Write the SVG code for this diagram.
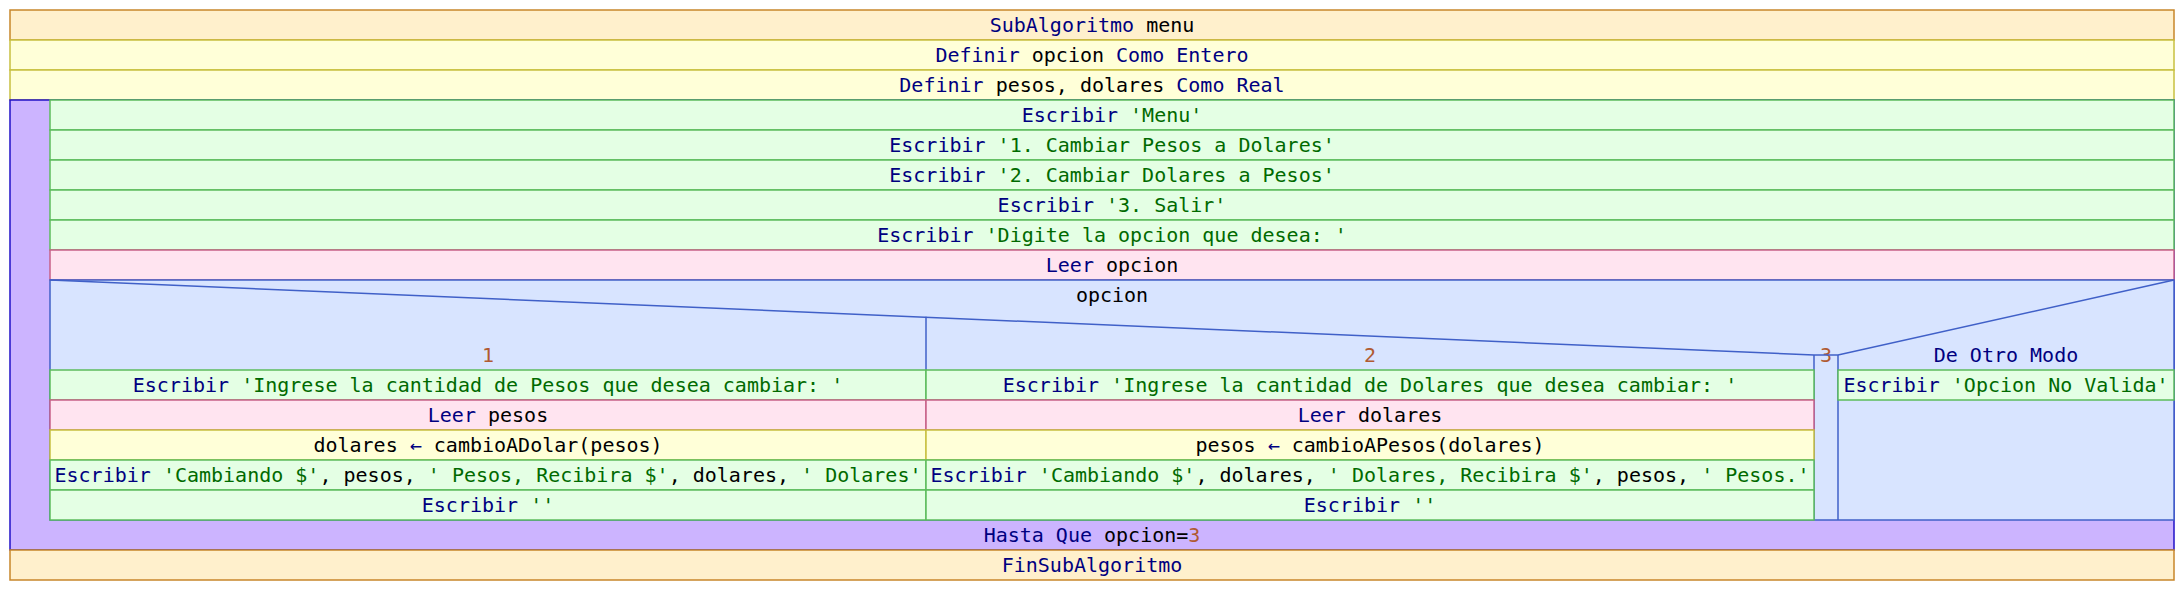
<svg xmlns="http://www.w3.org/2000/svg" width="2184" height="590" viewBox="0 0 2184 590" xml:space="preserve">
<style>
text{font-family:"DejaVu Sans Mono","Liberation Mono",monospace;font-size:20px;text-anchor:middle;fill:#000}
.k{fill:#000080}.s{fill:#006a00}.n{fill:#b05a32}
.fin{fill:#fff0cc;stroke:#c8862a;stroke-width:1.5}
.def{fill:#ffffd8;stroke:#c8c040;stroke-width:1.5}
.esc{fill:#e4ffe4;stroke:#5cbc5c;stroke-width:1.5}
.lee{fill:#ffe4f0;stroke:#c86088;stroke-width:1.5}
.sw{fill:#d8e4ff;stroke:#4060c8;stroke-width:1.5}
.ln{fill:none;stroke:#4060c8;stroke-width:1.5}
.rep{fill:#ccb4ff;stroke:#2010c8;stroke-width:1.5}
</style>
<rect width="2184" height="590" fill="#fff"/>
<g id="n_sub"><rect class="fin" x="10" y="10" width="2164" height="30"/><text x="1092" y="31.5"><tspan class="k">SubAlgoritmo</tspan> menu</text></g>
<g id="n_def1"><rect class="def" x="10" y="40" width="2164" height="30"/><text x="1092" y="61.5"><tspan class="k">Definir</tspan> opcion <tspan class="k">Como Entero</tspan></text></g>
<g id="n_def2"><rect class="def" x="10" y="70" width="2164" height="30"/><text x="1092" y="91.5"><tspan class="k">Definir</tspan> pesos, dolares <tspan class="k">Como Real</tspan></text></g>
<g id="n_repetir"><rect class="rep" x="10" y="100" width="2164" height="450"/><text x="1092" y="541.5"><tspan class="k">Hasta Que</tspan> opcion=<tspan class="n">3</tspan></text></g>
<g id="n_e1"><rect class="esc" x="50" y="100" width="2124" height="30"/><text x="1112" y="121.5"><tspan class="k">Escribir</tspan> <tspan class="s">'Menu'</tspan></text></g>
<g id="n_e2"><rect class="esc" x="50" y="130" width="2124" height="30"/><text x="1112" y="151.5"><tspan class="k">Escribir</tspan> <tspan class="s">'1. Cambiar Pesos a Dolares'</tspan></text></g>
<g id="n_e3"><rect class="esc" x="50" y="160" width="2124" height="30"/><text x="1112" y="181.5"><tspan class="k">Escribir</tspan> <tspan class="s">'2. Cambiar Dolares a Pesos'</tspan></text></g>
<g id="n_e4"><rect class="esc" x="50" y="190" width="2124" height="30"/><text x="1112" y="211.5"><tspan class="k">Escribir</tspan> <tspan class="s">'3. Salir'</tspan></text></g>
<g id="n_e5"><rect class="esc" x="50" y="220" width="2124" height="30"/><text x="1112" y="241.5"><tspan class="k">Escribir</tspan> <tspan class="s">'Digite la opcion que desea: '</tspan></text></g>
<g id="n_leer"><rect class="lee" x="50" y="250" width="2124" height="30"/><text x="1112" y="271.5"><tspan class="k">Leer</tspan> opcion</text></g>
<g id="n_segun">
<rect class="sw" x="50" y="280" width="2124" height="240"/>
<text x="1112" y="302">opcion</text>
<text class="n" x="488" y="362">1</text>
<text class="n" x="1370" y="362">2</text>
<text class="n" x="1826" y="362">3</text>
<text class="k" x="2006" y="362">De Otro Modo</text>
</g>
<g id="connectors">
<polyline class="ln" points="50,280 1814,355 1838,355 2174,280"/>
<line class="ln" x1="926" y1="316.8" x2="926" y2="370"/>
<line class="ln" x1="1814" y1="355" x2="1814" y2="520"/>
<line class="ln" x1="1838" y1="355" x2="1838" y2="520"/>
</g>
<g id="n_c1e1"><rect class="esc" x="50" y="370" width="876" height="30"/><text x="488" y="391.5"><tspan class="k">Escribir</tspan> <tspan class="s">'Ingrese la cantidad de Pesos que desea cambiar: '</tspan></text></g>
<g id="n_c1l"><rect class="lee" x="50" y="400" width="876" height="30"/><text x="488" y="421.5"><tspan class="k">Leer</tspan> pesos</text></g>
<g id="n_c1a"><rect class="def" x="50" y="430" width="876" height="30"/><text x="488" y="451.5">dolares <tspan class="k">←</tspan> cambioADolar(pesos)</text></g>
<g id="n_c1e2"><rect class="esc" x="50" y="460" width="876" height="30"/><text x="488" y="481.5"><tspan class="k">Escribir</tspan> <tspan class="s">'Cambiando $'</tspan>, pesos, <tspan class="s">' Pesos, Recibira $'</tspan>, dolares, <tspan class="s">' Dolares'</tspan></text></g>
<g id="n_c1e3"><rect class="esc" x="50" y="490" width="876" height="30"/><text x="488" y="511.5"><tspan class="k">Escribir</tspan> <tspan class="s">''</tspan></text></g>
<g id="n_c2e1"><rect class="esc" x="926" y="370" width="888" height="30"/><text x="1370" y="391.5"><tspan class="k">Escribir</tspan> <tspan class="s">'Ingrese la cantidad de Dolares que desea cambiar: '</tspan></text></g>
<g id="n_c2l"><rect class="lee" x="926" y="400" width="888" height="30"/><text x="1370" y="421.5"><tspan class="k">Leer</tspan> dolares</text></g>
<g id="n_c2a"><rect class="def" x="926" y="430" width="888" height="30"/><text x="1370" y="451.5">pesos <tspan class="k">←</tspan> cambioAPesos(dolares)</text></g>
<g id="n_c2e2"><rect class="esc" x="926" y="460" width="888" height="30"/><text x="1370" y="481.5"><tspan class="k">Escribir</tspan> <tspan class="s">'Cambiando $'</tspan>, dolares, <tspan class="s">' Dolares, Recibira $'</tspan>, pesos, <tspan class="s">' Pesos.'</tspan></text></g>
<g id="n_c2e3"><rect class="esc" x="926" y="490" width="888" height="30"/><text x="1370" y="511.5"><tspan class="k">Escribir</tspan> <tspan class="s">''</tspan></text></g>
<g id="n_c4e1"><rect class="esc" x="1838" y="370" width="336" height="30"/><text x="2006" y="391.5"><tspan class="k">Escribir</tspan> <tspan class="s">'Opcion No Valida'</tspan></text></g>
<g id="n_finsub"><rect class="fin" x="10" y="550" width="2164" height="30"/><text class="k" x="1092" y="571.5">FinSubAlgoritmo</text></g>
</svg>
